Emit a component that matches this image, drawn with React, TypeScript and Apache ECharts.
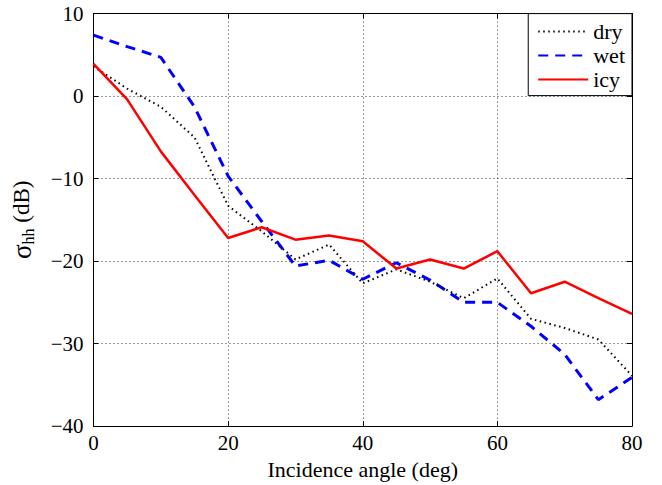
import React, { useEffect, useRef } from "react";
import * as echarts from "echarts";

const angles = [0, 5, 10, 15, 20, 25, 30, 35, 40, 45, 50, 55, 60, 65, 70, 75, 80];
const dry = [3.6, 0.9, -1.3, -5.0, -13.3, -16.4, -19.8, -18.0, -22.7, -21.0, -22.5, -24.5, -22.1, -27.0, -28.1, -29.5, -33.9];
const wet = [7.4, 6.0, 4.7, -1.3, -9.7, -15.2, -20.6, -19.9, -22.2, -20.2, -22.3, -25.0, -25.0, -27.9, -31.3, -36.8, -34.1];
const icy = [3.9, -0.4, -6.7, -12.0, -17.2, -15.9, -17.4, -16.9, -17.6, -20.9, -19.8, -20.9, -18.8, -23.9, -22.5, -24.5, -26.4];
const xTicks = { min: 0, max: 80, interval: 20 };
const yTicks = { min: -40, max: 10, interval: 10 };

const FONT = "'Liberation Serif', 'Times New Roman', serif";

export default function App() {
  const ref = useRef<HTMLDivElement>(null);
  useEffect(() => {
    document.body.style.margin = "0";
    if (!ref.current) return;
    const chart = echarts.init(ref.current, null, { renderer: "svg" });
    const pairs = (ys: number[]) => angles.map((a, i) => [a, ys[i]]);
    const minus = (v: number) => String(v).replace("-", "\u2212");
    const splitLine = { show: true, lineStyle: { color: "#333", width: 1, type: [1, 3] as any } };
    const axisLine = { show: true, onZero: false, lineStyle: { color: "#000", width: 1 } };
    const tick = { show: true, inside: true, length: 5, lineStyle: { color: "#000" } };
    chart.setOption({
      animation: false,
      backgroundColor: "#fff",
      grid: { left: 91, right: 30, top: 13.6, bottom: 58 },
      xAxis: [
        {
          type: "value", ...xTicks, position: "bottom",
          axisLine, axisTick: tick, splitLine,
          axisLabel: { color: "#000", fontFamily: FONT, fontSize: 21, margin: 6 },
          name: "Incidence angle (deg)", nameLocation: "middle", nameGap: 28,
          nameTextStyle: { color: "#000", fontFamily: FONT, fontSize: 22 },
        },
        {
          type: "value", ...xTicks, position: "top",
          axisLine, axisTick: tick, splitLine: { show: false }, axisLabel: { show: false },
        },
      ],
      yAxis: [
        {
          type: "value", ...yTicks, position: "left",
          axisLine, axisTick: tick, splitLine,
          axisLabel: { color: "#000", fontFamily: FONT, fontSize: 21, margin: 10, formatter: minus },
          name: "{a|\u03c3}{b|hh}{c| (dB)}", nameLocation: "middle", nameGap: 57,
          nameTextStyle: {
            color: "#000", fontFamily: FONT, fontSize: 22,
            rich: {
              a: { fontFamily: FONT, fontSize: 27, color: "#000", lineHeight: 30, verticalAlign: "middle" },
              b: { fontFamily: FONT, fontSize: 16, color: "#000", lineHeight: 30, verticalAlign: "bottom" },
              c: { fontFamily: FONT, fontSize: 23, color: "#000", lineHeight: 30, verticalAlign: "middle" },
            },
          },
        },
        {
          type: "value", ...yTicks, position: "right",
          axisLine, axisTick: tick, splitLine: { show: false }, axisLabel: { show: false },
        },
      ],
      legend: {
        right: 30, top: 13.6, orient: "vertical",
        backgroundColor: "#fff", borderColor: "#000", borderWidth: 1, borderRadius: 0,
        padding: [7, 7, 5, 9], itemWidth: 50, itemHeight: 14, itemGap: 2,
        itemStyle: { opacity: 0 },
        textStyle: { color: "#000", fontFamily: FONT, fontSize: 22 },
        data: ["dry", "wet", "icy"],
      },
      series: [
        {
          name: "dry", type: "line", data: pairs(dry), showSymbol: false, symbol: "none",
          lineStyle: { color: "#000", width: 2, type: [1.5, 3.5] as any },
          itemStyle: { color: "#000" }, z: 3,
        },
        {
          name: "wet", type: "line", data: pairs(wet), showSymbol: false, symbol: "none",
          lineStyle: { color: "#0000ff", width: 3, type: [10, 7] as any },
          itemStyle: { color: "#0000ff" }, z: 2,
        },
        {
          name: "icy", type: "line", data: pairs(icy), showSymbol: false, symbol: "none",
          lineStyle: { color: "#ff0000", width: 2.5 },
          itemStyle: { color: "#ff0000" }, z: 4,
        },
      ],
    });
    return () => chart.dispose();
  }, []);
  return <div ref={ref} style={{ width: 662, height: 485 }} />;
}
